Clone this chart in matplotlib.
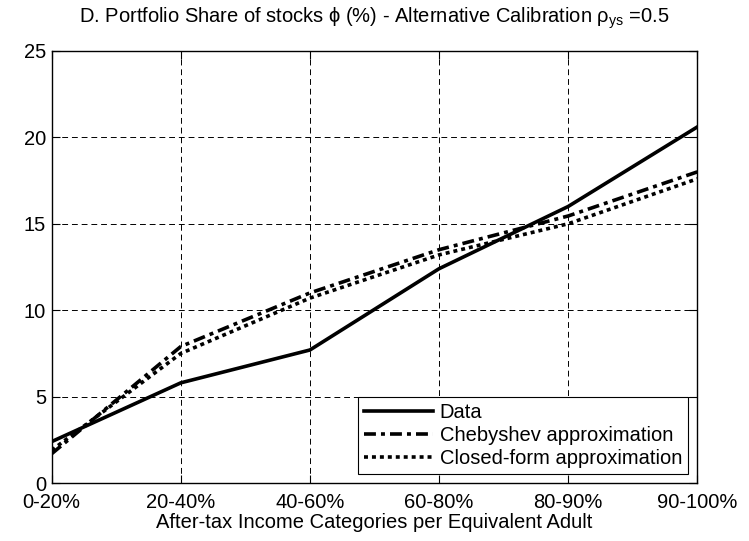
import matplotlib
matplotlib.use("Agg")
import matplotlib.pyplot as plt

plt.rcParams['font.family'] = ['Liberation Sans', 'DejaVu Sans']
plt.rcParams['mathtext.fontset'] = 'custom'
plt.rcParams['mathtext.rm'] = 'Liberation Sans'
plt.rcParams['mathtext.it'] = 'Liberation Sans'

# Income categories and series values
categories = ['0-20%', '20-40%', '40-60%', '60-80%', '80-90%', '90-100%']
data = [2.4, 5.8, 7.7, 12.4, 16.0, 20.6]
chebyshev = [1.7, 7.9, 11.0, 13.5, 15.45, 18.0]
closed_form = [1.9, 7.5, 10.7, 13.2, 15.0, 17.6]

FS = 14.5

fig = plt.figure(figsize=(7.49, 5.41), dpi=100)
ax = fig.add_axes([0.069, 0.107, 0.862, 0.799])

x = list(range(len(categories)))
ax.plot(x, data, color='black', linewidth=2.6, linestyle='-', label='Data')
ax.plot(x, chebyshev, color='black', linewidth=2.6, linestyle=(0, (3.3, 1.4, 1.1, 1.4)),
        label='Chebyshev approximation')
ax.plot(x, closed_form, color='black', linewidth=2.6, linestyle=(0, (1.1, 1.1)),
        label='Closed-form approximation')

ax.set_xlim(0, 5)
ax.set_ylim(0, 25)
ax.set_xticks(x)
ax.set_xticklabels(categories)
ax.set_yticks([0, 5, 10, 15, 20, 25])
ax.tick_params(direction='in', top=True, right=True, labelsize=FS, length=6)
ax.tick_params(axis='x', pad=7)
ax.tick_params(axis='y', pad=4)
ax.grid(True, color='black', linestyle=(0, (6, 4)), linewidth=0.7)
for s in ax.spines.values():
    s.set_linewidth(1.0)

ax.set_xlabel('After-tax Income Categories per Equivalent Adult', fontsize=FS, labelpad=1)
ax.set_title(r'D. Portfolio Share of stocks $\phi$ (%) - Alternative Calibration $\rho_{\mathrm{ys}}$ =0.5',
             fontsize=FS, pad=20)

leg = ax.legend(loc='lower right', fontsize=FS, fancybox=False, edgecolor='black',
                framealpha=1, handlelength=3.4, handletextpad=0.35,
                borderaxespad=0.45, labelspacing=0.2, borderpad=0.3)
leg.get_frame().set_linewidth(0.8)

fig.savefig('out.png', dpi=100)
